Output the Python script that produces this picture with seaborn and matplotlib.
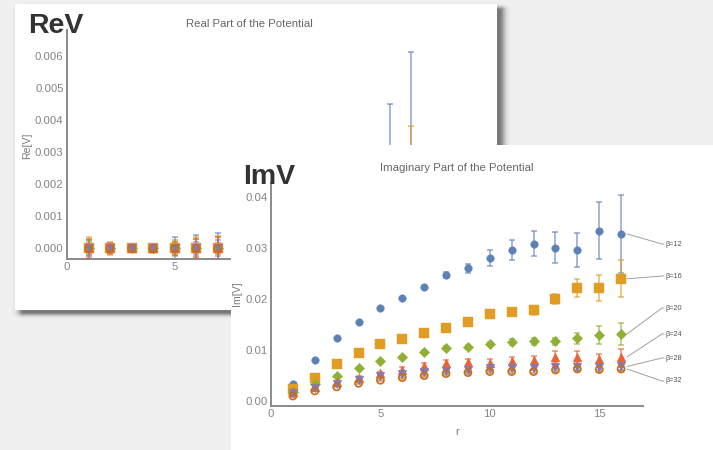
import numpy as np
import pandas as pd
import seaborn as sns
import matplotlib
matplotlib.use("Agg")
import matplotlib.pyplot as plt
from matplotlib.patches import Rectangle
from matplotlib.lines import Line2D
from matplotlib.ticker import MultipleLocator, FormatStrFormatter

# ---------------- data ----------------
r = list(range(1, 17))
betas = ["β=12", "β=16", "β=20", "β=24", "β=28", "β=32"]

im12 = [0.0034, 0.0081, 0.0124, 0.0156, 0.0182, 0.0203, 0.0223, 0.0248, 0.0261, 0.0281, 0.0297, 0.0309, 0.0301, 0.0296, 0.0334, 0.0328]
im16 = [0.0023, 0.0046, 0.0073, 0.0094, 0.0112, 0.0122, 0.0133, 0.0144, 0.0155, 0.0170, 0.0175, 0.0178, 0.0200, 0.0222, 0.0222, 0.0240]
im20 = [0.0018, 0.0033, 0.0050, 0.0065, 0.0078, 0.0086, 0.0097, 0.0105, 0.0106, 0.0112, 0.0116, 0.0117, 0.0117, 0.0123, 0.0130, 0.0132]
im24 = [0.0017, 0.0028, 0.0038, 0.0046, 0.0055, 0.0062, 0.0069, 0.0074, 0.0076, 0.0075, 0.0078, 0.0080, 0.0086, 0.0086, 0.0083, 0.0087]
im28 = [0.0015, 0.0025, 0.0034, 0.0042, 0.0050, 0.0054, 0.0057, 0.0060, 0.0061, 0.0064, 0.0064, 0.0065, 0.0066, 0.0067, 0.0067, 0.0068]
im32 = [0.0010, 0.0020, 0.0028, 0.0035, 0.0041, 0.0046, 0.0050, 0.0054, 0.0056, 0.0058, 0.0058, 0.0058, 0.0061, 0.0063, 0.0062, 0.0063]

im_err12 = [0.0002, 0.0002, 0.0002, 0.0002, 0.0002, 0.0002, 0.0003, 0.0006, 0.0009, 0.0015, 0.0020, 0.0025, 0.0030, 0.0033, 0.0056, 0.0076]
im_err16 = [0.0002, 0.0002, 0.0002, 0.0002, 0.0003, 0.0003, 0.0004, 0.0005, 0.0006, 0.0007, 0.0008, 0.0009, 0.0010, 0.0018, 0.0025, 0.0036]
im_err20 = [0.0002, 0.0002, 0.0002, 0.0002, 0.0003, 0.0003, 0.0004, 0.0004, 0.0004, 0.0004, 0.0005, 0.0006, 0.0007, 0.0011, 0.0018, 0.0022]
im_err24 = [0.0002, 0.0002, 0.0002, 0.0003, 0.0003, 0.0004, 0.0005, 0.0006, 0.0007, 0.0008, 0.0008, 0.0009, 0.0012, 0.0012, 0.0010, 0.0016]
im_err28 = [0.0002, 0.0002, 0.0002, 0.0002, 0.0002, 0.0003, 0.0003, 0.0003, 0.0003, 0.0004, 0.0004, 0.0004, 0.0005, 0.0005, 0.0005, 0.0006]
im_err32 = [0.0001, 0.0001, 0.0001, 0.0002, 0.0002, 0.0002, 0.0002, 0.0002, 0.0002, 0.0003, 0.0003, 0.0003, 0.0003, 0.0004, 0.0004, 0.0004]

re12 = [0.00000, 0.00001, 0.00000, 0.00000, 0.00001, 0.00001, 0.00002, 0.00003, 0.00004, 0.00005, 0.00006, 0.00008, 0.00008, 0.00009, 0.00010, 0.00010]
re16 = [0.00001, 0.00000, 0.00000, 0.00001, 0.00000, 0.00001, 0.00001, 0.00002, 0.00002, 0.00003, 0.00003, 0.00004, 0.00004, 0.00005, 0.00005, 0.00000]
re20 = [0.00000, 0.00000, 0.00000, 0.00000, 0.00000, 0.00000, 0.00000, 0.00001, 0.00001, 0.00001, 0.00001, 0.00002, 0.00002, 0.00002, 0.00002, 0.00003]
re24 = [0.00000, 0.00000, 0.00000, 0.00000, 0.00000, 0.00000, 0.00000, 0.00000, 0.00001, 0.00001, 0.00001, 0.00001, 0.00001, 0.00001, 0.00002, 0.00002]
re28 = [0.00000, 0.00000, 0.00000, 0.00000, 0.00000, 0.00000, 0.00000, 0.00000, 0.00000, 0.00001, 0.00001, 0.00001, 0.00001, 0.00001, 0.00001, 0.00001]
re32 = [0.00000, 0.00000, 0.00000, 0.00000, 0.00000, 0.00000, 0.00000, 0.00000, 0.00000, 0.00000, 0.00000, 0.00001, 0.00001, 0.00001, 0.00001, 0.00001]

re_err12 = [0.00025, 0.00015, 0.00008, 0.00012, 0.00034, 0.00042, 0.00045, 0.0006, 0.0008, 0.0010, 0.0013, 0.0016, 0.0020, 0.0025, 0.0044, 0.0060]
re_err16 = [0.00035, 0.00020, 0.00010, 0.00010, 0.00020, 0.00035, 0.00038, 0.0005, 0.0006, 0.0008, 0.0010, 0.0012, 0.0015, 0.0018, 0.0022, 0.0038]
re_err20 = [0.00022, 0.00012, 0.00008, 0.00015, 0.00025, 0.00030, 0.00036, 0.0004, 0.0005, 0.0006, 0.0007, 0.0008, 0.0009, 0.0010, 0.0012, 0.0014]
re_err24 = [0.00030, 0.00018, 0.00006, 0.00010, 0.00020, 0.00028, 0.00034, 0.0003, 0.0004, 0.0005, 0.0005, 0.0006, 0.0007, 0.0008, 0.0009, 0.0010]
re_err28 = [0.00018, 0.00010, 0.00005, 0.00008, 0.00015, 0.00020, 0.00025, 0.0003, 0.0003, 0.0004, 0.0004, 0.0005, 0.0005, 0.0006, 0.0006, 0.0007]
re_err32 = [0.00012, 0.00008, 0.00004, 0.00006, 0.00010, 0.00014, 0.00018, 0.0002, 0.0002, 0.0003, 0.0003, 0.0003, 0.0004, 0.0004, 0.0004, 0.0005]

im_vals = [im12, im16, im20, im24, im28, im32]
im_errs = [im_err12, im_err16, im_err20, im_err24, im_err28, im_err32]
re_vals = [re12, re16, re20, re24, re28, re32]
re_errs = [re_err12, re_err16, re_err20, re_err24, re_err28, re_err32]

x_ticks = [0, 5, 10, 15]
im_yticks = [0.00, 0.01, 0.02, 0.03, 0.04]
re_yticks = [0.000, 0.001, 0.002, 0.003, 0.004, 0.005, 0.006]

# ---------------- style ----------------
colors = ["#5E81B5", "#E19C24", "#8FB032", "#EB6235", "#8778B3", "#C56E1A"]
markers = ["o", "s", "D", "^", "v", "o"]
msizes = [30, 44, 28, 40, 38, 26]
filled = [True, True, True, True, True, False]

W, H = 713, 450
sns.set_style("white")
plt.rcParams["font.family"] = ["Liberation Sans", "DejaVu Sans"]

fig = plt.figure(figsize=(W / 100, H / 100), dpi=100, facecolor="#f0f0f0")


def frac_rect(x0, y0, x1, y1):
    return (x0 / W, 1 - y1 / H, (x1 - x0) / W, (y1 - y0) / H)


# soft shadow of the back panel
yy, xx = np.mgrid[0:H, 0:W] + 0.5


def soft(v, a, b, s):
    d = np.maximum(np.maximum(a - v, v - b), 0)
    return np.exp(-(d / s) ** 2)


alpha = 0.5 * soft(xx, 24, 499, 6.0) * soft(yy, 10, 312, 3.5)
img = np.zeros((H, W, 4))
img[..., 3] = alpha
fig.figimage(img, 0, 0, origin="upper", zorder=0.1)

# back panel
bx0, by0, bw, bh = frac_rect(15, 4, 497, 310)
fig.add_artist(Rectangle((bx0, by0), bw, bh, transform=fig.transFigure,
                         facecolor="white", edgecolor="none", zorder=0.2))
ax_re = fig.add_axes(frac_rect(67, 30, 432.5, 259))
ax_re.set_zorder(0.3)
ax_re.patch.set_alpha(0)

# front panel
fx0, fy0, fw, fh = frac_rect(231, 145, 713, 450)
fig.add_artist(Rectangle((fx0, fy0), fw, fh, transform=fig.transFigure,
                         facecolor="white", edgecolor="none", zorder=0.4))
ax_im = fig.add_axes(frac_rect(271, 183, 643, 405.7))
ax_im.set_zorder(0.5)
ax_im.patch.set_alpha(0)

# ---------------- draw series ----------------
rows = []
for b, vals, errs in zip(betas, im_vals, im_errs):
    for ri, v, e in zip(r, vals, errs):
        rows.append(dict(r=ri, beta=b, im=v, im_err=e))
df_im = pd.DataFrame(rows)
rows = []
for b, vals, errs in zip(betas, re_vals, re_errs):
    for ri, v, e in zip(r, vals, errs):
        rows.append(dict(r=ri, beta=b, re=v, re_err=e))
df_re = pd.DataFrame(rows)


def draw(ax, df, ycol, ecol):
    for b, c, m, s, f in zip(betas, colors, markers, msizes, filled):
        d = df[df["beta"] == b]
        ax.errorbar(d["r"], d[ycol], yerr=d[ecol], fmt="none", ecolor=c,
                    alpha=0.7, elinewidth=1.1, capsize=2.3, capthick=1.1,
                    clip_on=True)
        if f:
            sns.scatterplot(x=d["r"], y=d[ycol], ax=ax, marker=m, color=c,
                            s=s, edgecolor=c, linewidth=0.3, legend=False, zorder=3)
        else:
            sns.scatterplot(x=d["r"], y=d[ycol], ax=ax, marker=m, color=c,
                            s=s, facecolors="none", edgecolor=c, linewidth=1.2,
                            legend=False, zorder=3)


draw(ax_re, df_re, "re", "re_err")
draw(ax_im, df_im, "im", "im_err")


def style(ax, yticks, fmt, yminor, ylim):
    ax.set_xlim(0, 17)
    ax.set_ylim(*ylim)
    ax.set_xlabel("")
    ax.set_ylabel("")
    for s in ["top", "right"]:
        ax.spines[s].set_visible(False)
    for s in ["left", "bottom"]:
        ax.spines[s].set_color("#8a8a8a")
        ax.spines[s].set_linewidth(1.4)
    ax.set_xticks(x_ticks)
    ax.set_yticks(yticks)
    ax.xaxis.set_minor_locator(MultipleLocator(1))
    ax.yaxis.set_minor_locator(MultipleLocator(yminor))
    ax.yaxis.set_major_formatter(FormatStrFormatter(fmt))
    ax.tick_params(which="both", direction="in", color="#8a8a8a",
                   labelcolor="#858585", labelsize=8.2)
    ax.tick_params(which="major", length=4, width=0.8, pad=2.5)
    ax.tick_params(which="minor", length=2.2, width=0.6)


style(ax_re, re_yticks, "%.3f", 0.0002, (-0.00033, 0.0068))
style(ax_im, im_yticks, "%.2f", 0.002, (-0.0009, 0.0428))

# ---------------- texts ----------------
txt_gray = "#7a7a7a"
fig.text(28 / W, 1 - 33 / H, "ReV", fontsize=20.5, fontweight="bold",
         color="#333333", ha="left", va="baseline", zorder=0.35)
fig.text(249 / W, 1 - 24 / H, "Real Part of the Potential", fontsize=8.2,
         color="#666666", ha="center", va="center", zorder=0.35)
fig.text(27 / W, 1 - 146 / H, "Re[V]", fontsize=7.6, color=txt_gray,
         rotation=90, ha="center", va="center", zorder=0.35)

fig.text(243 / W, 1 - 184 / H, "ImV", fontsize=20.5, fontweight="bold",
         color="#333333", ha="left", va="baseline", zorder=0.6)
fig.text(457 / W, 1 - 168 / H, "Imaginary Part of the Potential", fontsize=8.2,
         color="#666666", ha="center", va="center", zorder=0.6)
fig.text(237 / W, 1 - 294 / H, "Im[V]", fontsize=7.6, color=txt_gray,
         rotation=90, ha="center", va="center", zorder=0.6)
fig.text(457 / W, 1 - 432 / H, "r", fontsize=8, color=txt_gray,
         ha="center", va="center", zorder=0.6)

# callout labels (layout positions in pixels, from top)
label_y_px = [244, 276, 308, 334, 358, 381]
label_x_px = 665
fig.canvas.draw()
for b, vals, ly in zip(betas, im_vals, label_y_px):
    px, py = ax_im.transData.transform((r[-1], vals[-1]))
    yfig = H - ly
    line = Line2D([px + 6, label_x_px - 3, label_x_px - 1], [py, yfig, yfig],
                  transform=None, color="#a0a0a0", lw=0.7, zorder=0.6)
    fig.add_artist(line)
    fig.text(label_x_px / W, yfig / H, b, fontsize=5.2, color="#555555",
             ha="left", va="center", zorder=0.6)

fig.savefig("out.png", dpi=100, facecolor=fig.get_facecolor())
